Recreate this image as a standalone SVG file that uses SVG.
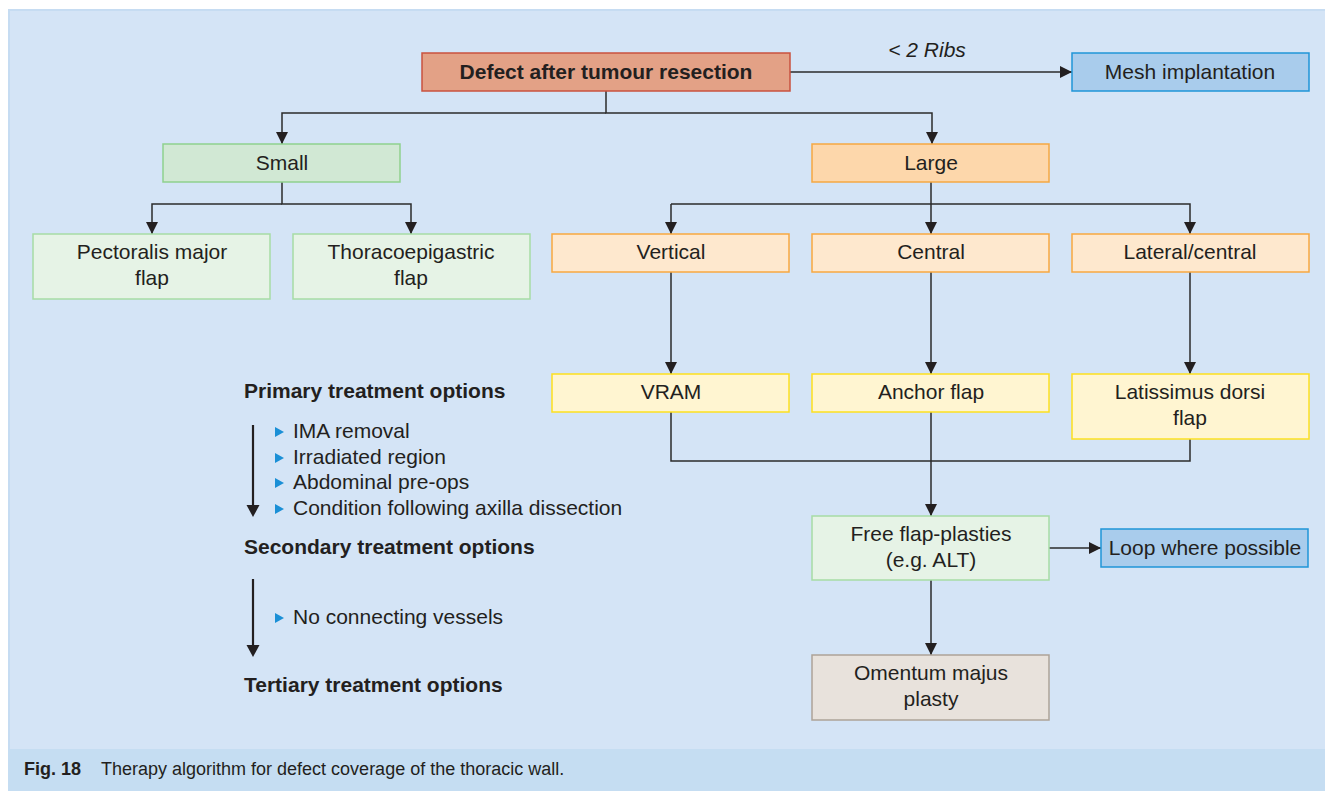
<svg xmlns="http://www.w3.org/2000/svg" width="1325" height="791" viewBox="0 0 1325 791">
<style>
.t{font-family:"Liberation Sans",Arial,sans-serif;font-size:21px;fill:#231f20;text-anchor:middle}
.b{font-weight:bold}
.lt{font-family:"Liberation Sans",Arial,sans-serif;font-size:21px;fill:#231f20}
.c{stroke:#2b2b2b;stroke-width:1.5;fill:none}
.big{stroke:#231f20;stroke-width:2.2;fill:none}
.red{fill:#e3a186;stroke:#c9523f;stroke-width:1.5}
.blue{fill:#a9ccec;stroke:#1f95d8;stroke-width:1.5}
.gs{fill:#d1e8d4;stroke:#8fd18e;stroke-width:1.5}
.gl{fill:#e6f3e6;stroke:#a6dca5;stroke-width:1.5}
.o{fill:#fdd7ab;stroke:#f5a843;stroke-width:1.5}
.ol{fill:#fee8ce;stroke:#f8a840;stroke-width:1.5}
.y{fill:#fff5d1;stroke:#fde01f;stroke-width:1.5}
.gr{fill:#e8e2dc;stroke:#ada398;stroke-width:1.5}
.tri{fill:#1a8fd6}
</style>
<defs>
<marker id="ah" viewBox="0 0 12 12" refX="12" refY="6" markerWidth="12" markerHeight="12" markerUnits="userSpaceOnUse" orient="auto">
<path d="M0,0 L12,6 L0,12 Z" fill="#231f20"/>
</marker>
</defs>
<rect x="0" y="0" width="1325" height="791" fill="#ffffff"/>
<rect x="9" y="10" width="1320" height="740" fill="#d4e4f6" stroke="#c6dcf2" stroke-width="2"/>
<rect x="8" y="749" width="1317" height="42" fill="#c5ddf2"/>
<text x="24" y="775" style="font-family:'Liberation Sans',Arial,sans-serif;font-size:18px;fill:#231f20"><tspan font-weight="bold">Fig. 18</tspan><tspan x="101">Therapy algorithm for defect coverage of the thoracic wall.</tspan></text>

<g id="connectors">
<path class="c" d="M790,72 H1072" marker-end="url(#ah)"/>
<path class="c" d="M606,91 V113 H932 V144" marker-end="url(#ah)"/>
<path class="c" d="M606,113 H282 V144" marker-end="url(#ah)"/>
<path class="c" d="M282,182 V204 H411 V234" marker-end="url(#ah)"/>
<path class="c" d="M282,204 H152 V234" marker-end="url(#ah)"/>
<path class="c" d="M931,182 V234" marker-end="url(#ah)"/>
<path class="c" d="M671,204 H1190 V234" marker-end="url(#ah)"/>
<path class="c" d="M671,204 V234" marker-end="url(#ah)"/>
<path class="c" d="M671,272 V374" marker-end="url(#ah)"/>
<path class="c" d="M931,272 V374" marker-end="url(#ah)"/>
<path class="c" d="M1190,272 V374" marker-end="url(#ah)"/>
<path class="c" d="M671,412 V461 H1190 V439"/>
<path class="c" d="M931,412 V516" marker-end="url(#ah)"/>
<path class="c" d="M1049,548 H1101" marker-end="url(#ah)"/>
<path class="c" d="M931,580 V655" marker-end="url(#ah)"/>
<text x="927" y="57" style="font-family:'Liberation Sans',Arial,sans-serif;font-size:21px;font-style:italic;fill:#231f20;text-anchor:middle">&lt; 2 Ribs</text>
</g>

<g id="defect"><rect class="red" x="422" y="53" width="368" height="38"/><text class="t b" x="606" y="79">Defect after tumour resection</text></g>
<g id="mesh"><rect class="blue" x="1072" y="53" width="237" height="38"/><text class="t" x="1190" y="79">Mesh implantation</text></g>
<g id="small"><rect class="gs" x="163" y="144" width="237" height="38"/><text class="t" x="282" y="170">Small</text></g>
<g id="large"><rect class="o" x="812" y="144" width="237" height="38"/><text class="t" x="931" y="170">Large</text></g>
<g id="pectoralis"><rect class="gl" x="33" y="234" width="237" height="65"/><text class="t" x="152" y="259">Pectoralis major</text><text class="t" x="152" y="285">flap</text></g>
<g id="thoraco"><rect class="gl" x="293" y="234" width="237" height="65"/><text class="t" x="411" y="259">Thoracoepigastric</text><text class="t" x="411" y="285">flap</text></g>
<g id="vertical"><rect class="ol" x="552" y="234" width="237" height="38"/><text class="t" x="671" y="259">Vertical</text></g>
<g id="central"><rect class="ol" x="812" y="234" width="237" height="38"/><text class="t" x="931" y="259">Central</text></g>
<g id="lateral"><rect class="ol" x="1072" y="234" width="237" height="38"/><text class="t" x="1190" y="259">Lateral/central</text></g>
<g id="vram"><rect class="y" x="552" y="374" width="237" height="38"/><text class="t" x="671" y="399">VRAM</text></g>
<g id="anchor"><rect class="y" x="812" y="374" width="237" height="38"/><text class="t" x="931" y="399">Anchor flap</text></g>
<g id="latissimus"><rect class="y" x="1072" y="374" width="237" height="65"/><text class="t" x="1190" y="399">Latissimus dorsi</text><text class="t" x="1190" y="425">flap</text></g>
<g id="free"><rect class="gl" x="812" y="516" width="237" height="64"/><text class="t" x="931" y="541">Free flap-plasties</text><text class="t" x="931" y="567">(e.g. ALT)</text></g>
<g id="loop"><rect class="blue" x="1101" y="529" width="207" height="38"/><text class="t" x="1205" y="555">Loop where possible</text></g>
<g id="omentum"><rect class="gr" x="812" y="655" width="237" height="65"/><text class="t" x="931" y="680">Omentum majus</text><text class="t" x="931" y="706">plasty</text></g>

<g id="legend">
<text class="lt b" x="244" y="398">Primary treatment options</text>
<path class="big" d="M253,425 V505"/>
<path d="M246.5,505 L259.5,505 L253,517 Z" fill="#231f20"/>
<path class="tri" d="M275,427 L284,432 L275,437 Z"/>
<text class="lt" x="293" y="438">IMA removal</text>
<path class="tri" d="M275,453 L284,458 L275,463 Z"/>
<text class="lt" x="293" y="464">Irradiated region</text>
<path class="tri" d="M275,478 L284,483 L275,488 Z"/>
<text class="lt" x="293" y="489">Abdominal pre-ops</text>
<path class="tri" d="M275,504 L284,509 L275,514 Z"/>
<text class="lt" x="293" y="515">Condition following axilla dissection</text>
<text class="lt b" x="244" y="554">Secondary treatment options</text>
<path class="big" d="M253,579 V645"/>
<path d="M246.5,645 L259.5,645 L253,657 Z" fill="#231f20"/>
<path class="tri" d="M275,613 L284,618 L275,623 Z"/>
<text class="lt" x="293" y="624">No connecting vessels</text>
<text class="lt b" x="244" y="692">Tertiary treatment options</text>
</g>
</svg>
